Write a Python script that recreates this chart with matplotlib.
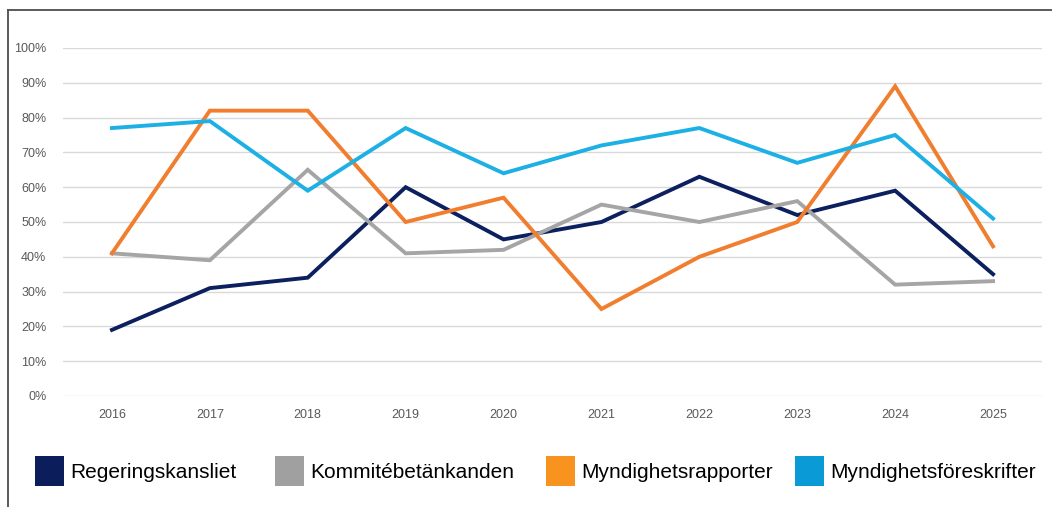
import matplotlib
matplotlib.use("Agg")
import matplotlib.pyplot as plt
from matplotlib.patches import Patch
from matplotlib.lines import Line2D
from matplotlib.ticker import PercentFormatter

plt.rcParams['font.family'] = ['Liberation Sans', 'DejaVu Sans']

years = [2016, 2017, 2018, 2019, 2020, 2021, 2022, 2023, 2024, 2025]

# andel i procent
regeringskansliet = [19, 31, 34, 60, 45, 50, 63, 52, 59, 35]
kommitebetankanden = [41, 39, 65, 41, 42, 55, 50, 56, 32, 33]
myndighetsrapporter = [41, 82, 82, 50, 57, 25, 40, 50, 89, 43]
myndighetsforeskrifter = [77, 79, 59, 77, 64, 72, 77, 67, 75, 51]

names = ["Regeringskansliet", "Kommitébetänkanden",
         "Myndighetsrapporter", "Myndighetsföreskrifter"]
line_colors = ["#0c1f5e", "#a5a5a5", "#f07e2e", "#1cb0e4"]
patch_colors = ["#0b1d5a", "#a0a0a0", "#f7931e", "#0a9ad6"]

fig = plt.figure(figsize=(10.52, 5.07), dpi=100)
ax = fig.add_axes([63/1052, 1 - 396/507, (1042 - 63)/1052, (396 - 48)/507])

series = [regeringskansliet, kommitebetankanden, myndighetsrapporter, myndighetsforeskrifter]
for vals, c in zip(series, line_colors):
    ax.plot(years, [v/100 for v in vals], color=c, lw=2.8, solid_joinstyle='miter', zorder=3)

ax.set_xlim(2015.5, 2025.5)
ax.set_ylim(0, 1.0)
ax.set_yticks([i/10 for i in range(11)])
ax.yaxis.set_major_formatter(PercentFormatter(1.0, decimals=0))
ax.set_xticks(years)
ax.grid(axis='y', color='#d9d9d9', lw=1)
ax.set_axisbelow(True)
for s in ax.spines.values():
    s.set_visible(False)
ax.tick_params(length=0, labelsize=9, colors='#595959')
ax.tick_params(axis='y', pad=12)
ax.tick_params(axis='x', pad=9)

# en legend per serie, placerade som i originalet
legend_x = [35, 275, 546, 795]
for name, c, lx in zip(names, patch_colors, legend_x):
    leg = fig.legend([Patch(facecolor=c, edgecolor='none')], [name], loc='center left',
                     bbox_to_anchor=(lx/1052, 1 - 471/507), frameon=False, fontsize=15,
                     handlelength=1.4, handleheight=1.8, handletextpad=0.3,
                     borderpad=0, borderaxespad=0)

# ram runt figuren
fig.add_artist(Line2D([8/1052, 1], [1 - 10/507, 1 - 10/507], color='#4d4d4d', lw=1.3))
fig.add_artist(Line2D([8/1052, 8/1052], [0, 1 - 10/507], color='#4d4d4d', lw=1.3))

fig.savefig("out.png", dpi=100)
